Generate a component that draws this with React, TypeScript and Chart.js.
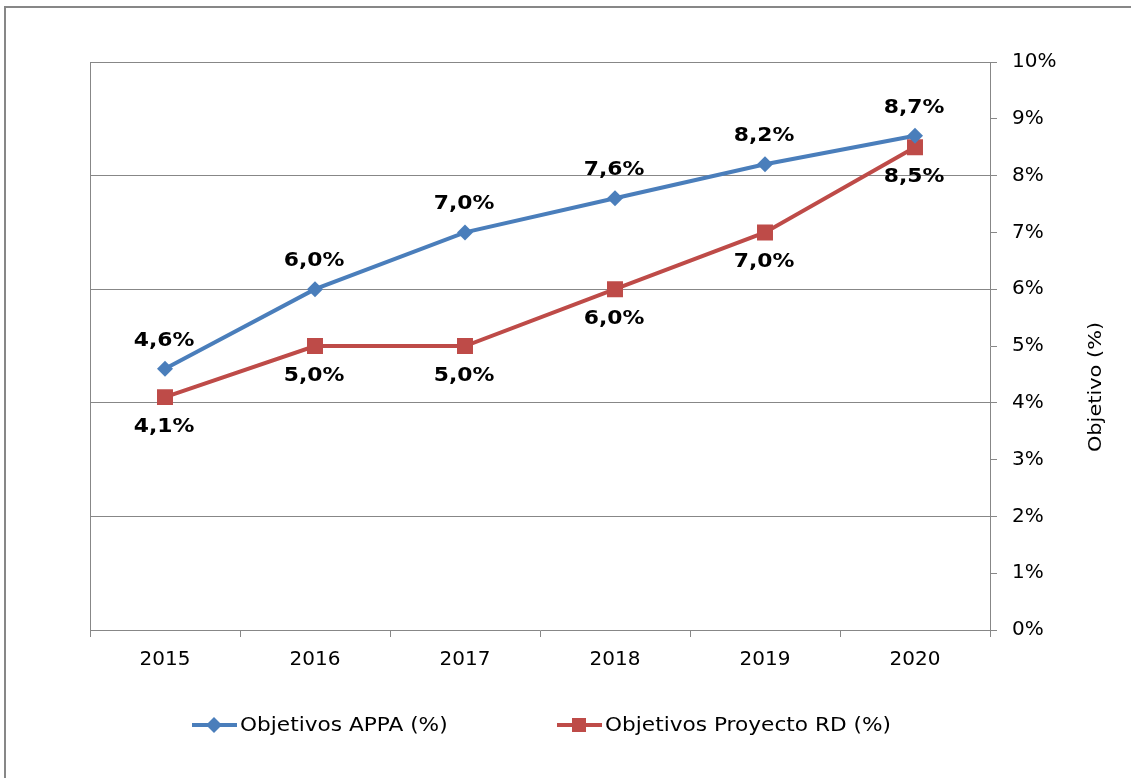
import React, { useEffect, useRef } from "react";
import { Chart, registerables } from "chart.js";

Chart.register(...registerables);

const categories = ["2015", "2016", "2017", "2018", "2019", "2020"];
const appaValues = [4.6, 6.0, 7.0, 7.6, 8.2, 8.7];
const rdValues = [4.1, 5.0, 5.0, 6.0, 7.0, 8.5];
const seriesNames = ["Objetivos APPA (%)", "Objetivos Proyecto RD (%)"];
const axisTitle = "Objetivo (%)";

const BLUE = "#4A7EBB";
const RED = "#BE4B48";
const GRID = "#878787";
const FONT = "'DejaVu Sans', Verdana, sans-serif";

const fmt = (v: number) => v.toFixed(1).replace(".", ",") + "%";

function stretchedText(ctx: any, text: string, x: number, y: number, sx: number, align: string) {
  ctx.save();
  ctx.translate(x, y);
  ctx.scale(sx, 1);
  ctx.textAlign = align;
  ctx.fillText(text, 0, 0);
  ctx.restore();
}

const framePlugin = {
  id: "frame",
  beforeDraw(chart: any) {
    const { ctx, chartArea } = chart;
    ctx.save();
    ctx.strokeStyle = GRID;
    ctx.lineWidth = 2;
    ctx.beginPath();
    ctx.moveTo(5, 778);
    ctx.lineTo(5, 7);
    ctx.lineTo(1131, 7);
    ctx.stroke();
    ctx.lineWidth = 1;
    ctx.beginPath();
    ctx.moveTo(chartArea.left + 0.5, chartArea.top);
    ctx.lineTo(chartArea.left + 0.5, chartArea.bottom);
    ctx.stroke();
    ctx.restore();
  },
};

const labelsPlugin = {
  id: "valueLabels",
  afterDatasetsDraw(chart: any) {
    const { ctx } = chart;
    ctx.save();
    ctx.font = `bold 19px ${FONT}`;
    ctx.fillStyle = "#000";
    ctx.textBaseline = "middle";
    chart.data.datasets.forEach((ds: any, di: number) => {
      const meta = chart.getDatasetMeta(di);
      meta.data.forEach((pt: any, i: number) => {
        const dy = di === 0 ? -28 : 30;
        stretchedText(ctx, fmt(ds.data[i]), pt.x - 1, pt.y + dy, 1.15, "center");
      });
    });
    // axis title
    ctx.font = `18px ${FONT}`;
    ctx.translate(1096, 387);
    ctx.rotate(-Math.PI / 2);
    stretchedText(ctx, axisTitle, 0, 0, 1.16, "center");
    ctx.restore();

    // legend
    ctx.save();
    const items = [
      { x: 192, color: BLUE, style: "diamond" },
      { x: 557, color: RED, style: "square" },
    ];
    const ly = 725;
    items.forEach((it, i) => {
      ctx.strokeStyle = it.color;
      ctx.fillStyle = it.color;
      ctx.lineWidth = 4;
      ctx.beginPath();
      ctx.moveTo(it.x, ly);
      ctx.lineTo(it.x + 45, ly);
      ctx.stroke();
      const cx = it.x + 22;
      if (it.style === "diamond") {
        ctx.beginPath();
        ctx.moveTo(cx, ly - 8);
        ctx.lineTo(cx + 8, ly);
        ctx.lineTo(cx, ly + 8);
        ctx.lineTo(cx - 8, ly);
        ctx.closePath();
        ctx.fill();
      } else {
        ctx.fillRect(cx - 7, ly - 7, 14, 14);
      }
      ctx.fillStyle = "#000";
      ctx.font = `19px ${FONT}`;
      ctx.textBaseline = "middle";
      stretchedText(ctx, seriesNames[i], it.x + 48, ly + 1, 1.14, "left");
    });
    ctx.restore();
  },
};

export default function App() {
  const ref = useRef<HTMLCanvasElement>(null);
  useEffect(() => {
    if (!ref.current) return;
    const chart = new Chart(ref.current, {
      type: "line",
      data: {
        labels: categories,
        datasets: [
          {
            label: seriesNames[0],
            data: appaValues,
            borderColor: BLUE,
            backgroundColor: BLUE,
            borderWidth: 4,
            pointStyle: "rectRot",
            pointRadius: 8,
            pointBorderWidth: 0,
            tension: 0,
          },
          {
            label: seriesNames[1],
            data: rdValues,
            borderColor: RED,
            backgroundColor: RED,
            borderWidth: 4,
            pointStyle: "rect",
            pointRadius: 11.3,
            pointBorderWidth: 0,
            tension: 0,
          },
        ],
      },
      options: {
        responsive: false,
        animation: false,
        layout: { padding: { left: 90, top: 62, right: 0, bottom: 0 } },
        plugins: {
          legend: { display: false },
          tooltip: { enabled: false },
          title: { display: false },
        },
        scales: {
          x: {
            offset: true,
            afterFit: (s: any) => {
              s.height = 148;
            },
            grid: {
              offset: true,
              drawOnChartArea: false,
              drawTicks: true,
              tickLength: 7,
              color: GRID,
            },
            border: { color: GRID, width: 1 },
            ticks: {
              color: "#000",
              font: { family: FONT, size: 20 },
              padding: 11,
            },
          },
          y: {
            position: "right",
            min: 0,
            max: 10,
            afterFit: (s: any) => {
              s.width = 141;
            },
            grid: {
              color: (c: any) =>
                c.tick && Math.round(c.tick.value) % 2 === 0 && c.tick.value !== 0
                  ? GRID
                  : "rgba(0,0,0,0)",
              tickColor: GRID,
              tickLength: 7,
              drawTicks: true,
            },
            border: { color: GRID, width: 1 },
            ticks: {
              stepSize: 1,
              color: "#000",
              font: { family: FONT, size: 20 },
              padding: 15,
              callback: (v: any) => v + "%",
            },
          },
        },
      },
      plugins: [framePlugin, labelsPlugin],
    });
    return () => chart.destroy();
  }, []);
  return (
    <div style={{ position: "absolute", left: 0, top: 0, width: 1131, height: 778 }}>
      <canvas ref={ref} width={1131} height={778} style={{ display: "block" }} />
    </div>
  );
}
